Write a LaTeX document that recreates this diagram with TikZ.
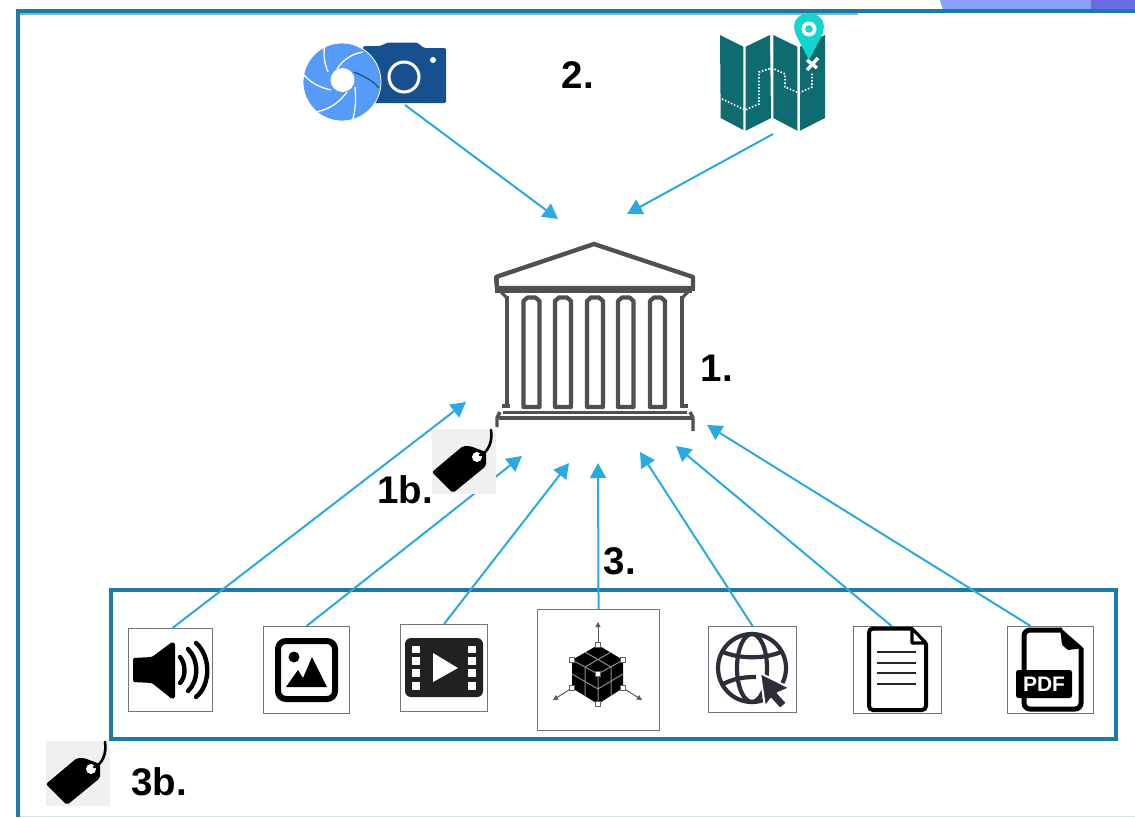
\documentclass[tikz,border=0pt]{standalone}
\usepackage{fontspec}
\setmainfont{Liberation Sans}
\usetikzlibrary{arrows.meta,calc}
\definecolor{frameblue}{HTML}{1A7BA6}
\definecolor{arrowblue}{HTML}{2BA9E1}
\definecolor{temple}{HTML}{505050}
\definecolor{iconborder}{HTML}{70747C}
\definecolor{camdark}{HTML}{17508F}
\definecolor{camlight}{HTML}{569BF7}
\definecolor{mapteal}{HTML}{0E6B6F}
\definecolor{pinteal}{HTML}{14D4D0}
\definecolor{globe}{HTML}{2E2E3A}
\definecolor{winlight}{HTML}{88A0F5}
\definecolor{windark}{HTML}{6A6BE0}
\definecolor{framepale}{HTML}{7FB3CE}
\tikzset{
  flow/.style={draw=arrowblue,line width=2pt,-{Triangle[length=15pt,width=16pt]}},
  iconbox/.style={draw=iconborder,line width=1.1pt,fill=white,inner sep=0pt,anchor=north west},
  lab/.style={font=\fontsize{38.5}{38.5}\selectfont\bfseries,inner sep=0pt,text=black},
  blade/.style={draw=white,line width=1.3pt},
  pillar/.style={draw=temple,line width=4.2pt,line join=round},
  tagbox/.style={fill=black!6,draw=none,inner sep=0pt,minimum width=64pt,minimum height=65pt,anchor=north west},
  pics/pricetag/.style={code={
    \fill[black,rounded corners=2pt] (0,43)--(21,64)--(54,37)--(54,23)--(38,17)--(31,17)--cycle;
    \fill[white] (45,28) circle (5);
    \draw[black,line width=2.6pt,line cap=round] (48,26) .. controls (56,24) and (61,12) .. (59,1);
  }}
}
\begin{document}
\begin{tikzpicture}[x=1pt,y=-1pt]
\useasboundingbox (0,0) rectangle (1135,817);
\fill[white] (0,0) rectangle (1135,817);
% window corner
\fill[winlight] (940,0) -- (1091,0) -- (1091,10) -- (943,10) -- cycle;
\fill[windark] (1091,0) rectangle (1135,10);
% outer frame
\fill[framepale] (17,12) rectangle (858,14.5);
\fill[frameblue] (15.5,9) rectangle (1135,13);
\fill[frameblue] (15.5,9) rectangle (20,817);
\fill[frameblue!20] (20,815.5) rectangle (1135,817);

% connector ends
\coordinate (camout) at (405,105);
\coordinate (mapout) at (773,134);
\coordinate (tcam) at (558,219);
\coordinate (tmap) at (627,214);
\coordinate (taudio) at (466,402);
\coordinate (timage) at (522,456);
\coordinate (tvideo) at (569,463);
\coordinate (tcube) at (598,463);
\coordinate (tweb) at (640,452);
\coordinate (tdoc) at (676,446);
\coordinate (tpdf) at (707,425);

% resources frame
\node[draw=frameblue,line width=4pt,inner sep=0pt,minimum width=1005.5pt,minimum height=149pt,anchor=north west] (resources) at (108.5,588) {};

% icon boxes
\node[iconbox,minimum width=84pt,minimum height=83pt] (audio) at (128,628) {};
\node[iconbox,minimum width=86pt,minimum height=87pt] (image) at (263,626) {};
\node[iconbox,minimum width=87pt,minimum height=87pt] (video) at (400,624) {};
\node[iconbox,minimum width=122pt,minimum height=121pt] (cube) at (537,609) {};
\node[iconbox,minimum width=88pt,minimum height=86pt] (web) at (708,626) {};
\node[iconbox,minimum width=88pt,minimum height=87pt] (doc) at (853,626) {};
\node[iconbox,minimum width=86pt,minimum height=87pt] (pdf) at (1007,626) {};

% connectors
\draw[flow] (camout) -- (tcam);
\draw[flow] (mapout) -- (tmap);
\draw[flow] ($(audio.north)+(2,0)$) -- (taudio);
\draw[flow] (image.north) -- (timage);
\draw[flow] (video.north) -- (tvideo);
\draw[flow] (cube.north) -- (tcube);
\draw[flow] (web.north) -- (tweb);
\draw[flow] ($(doc.north)+(-6,0)$) -- (tdoc);
\draw[flow] ($(pdf.north)+(-20,0)$) -- (tpdf);

% camera
\fill[camdark,rounded corners=1.5pt] (363,46) -- (380,46) -- (388,42.5) -- (417,42.5) -- (424,48) -- (446,48) -- (446,103) -- (363,103) -- cycle;
\draw[white,line width=3pt] (404,77) circle (15);
\fill[white] (433,60) circle (3);
\fill[camlight,draw=white,line width=.8pt] (342,82) circle (39);
\fill[white] (342.5,80) circle (12);
\draw[blade] (325,43) .. controls (323,55) and (324,62) .. (328,72);
\draw[blade] (363,52) .. controls (351,54) and (343,60) .. (337,69);
\draw[camdark,line width=1.2pt] (379,88) .. controls (374,82) and (368,78) .. (354,72);
\draw[blade] (352,122) .. controls (356,110) and (356,98) .. (355,87);
\draw[blade] (315,112) .. controls (328,110) and (338,104) .. (347,92);
\draw[blade] (303,74) .. controls (310,82) and (318,87) .. (331,90);

% map
\fill[mapteal] (720,35)--(743.3,46.7)--(743.3,130)--(720.7,118)--cycle;
\fill[mapteal] (745.7,46.7)--(770,35)--(771,118)--(745.7,130.7)--cycle;
\fill[mapteal] (773.3,35)--(797.3,46.7)--(797.3,130.7)--(773.3,118)--cycle;
\fill[mapteal] (800,46.7)--(825,35)--(825,118)--(800,130.7)--cycle;
\draw[white,line width=1.7pt,dash pattern=on 1.5pt off 1.8pt] (722,99)--(745,110)--(759,104)--(759,72)--(772,68)--(785,74)--(785,87)--(799,93)--(812,87)--(812,72);
\draw[white,line width=3.4pt] (807,70)--(818,58);
\draw[white,line width=3.4pt] (807,60)--(817,68);
\fill[pinteal] (809,60) -- (796.5,36) .. controls (790,22) and (798,13.5) .. (809,13.5) .. controls (820,13.5) and (828,22) .. (821.5,36) -- cycle;
\fill[white] (809,29) circle (7.5);
\fill[pinteal] (809,29) circle (3.8);

% temple
\draw[temple,line width=4.4pt,line join=round] (496,277) -- (594,244) -- (693,277) -- (693,288) -- (497,288) -- cycle;
\draw[temple,line width=3.4pt] (497,277) -- (497,291) -- (692,291);
\draw[temple,line width=3.4pt] (693,277) -- (693,291);
\draw[temple,line width=3pt] (501,292) -- (507,298);
\draw[temple,line width=3pt] (688,292) -- (682,298);
\draw[pillar] (507,296) -- (507,406);
\draw[pillar] (682,296) -- (682,406);
\foreach \xa/\xb in {523.5/539.5,555/571,587/603,618/633.5,650/665}
  \draw[pillar] (\xa,301) -- (\xa+4,297.5) -- (\xb-4,297.5) -- (\xb,301) -- (\xb,407) -- (\xa,407) -- cycle;
\draw[temple,line width=3.4pt] (502,406) -- (510,406);
\draw[temple,line width=3.4pt] (680,406) -- (688,406);
\draw[temple,line width=2.5pt] (503,412.5) -- (687,412.5);
\draw[temple,line width=3.6pt] (499,418) -- (692,418);
\draw[temple,line width=3.4pt] (500,412) -- (497,418) -- (497,427);
\draw[temple,line width=3.4pt] (690,412) -- (693,418) -- (693,431);

% tag 1b
\node[tagbox] (tag1) at (432,429) {};
\pic at (tag1.north west) {pricetag};
% tag 3b
\node[tagbox] (tag3) at (46,741) {};
\pic at (tag3.north west) {pricetag};

% audio icon
\fill[black,rounded corners=1.5pt] (133,658)--(152,657)--(172,642)--(175,643)--(175,698)--(172,699)--(152,683)--(133,682)--cycle;
\draw[black,line width=4.4pt,line cap=round] (180,657) .. controls (186,664) and (186,677) .. (180,683);
\draw[black,line width=4.4pt,line cap=round] (188,649) .. controls (199,660) and (199,681) .. (188,691);
\draw[black,line width=4.4pt,line cap=round] (196,643) .. controls (211,656) and (211,685) .. (196,697);

% image icon
\draw[black,line width=6pt,rounded corners=8pt] (278,641) rectangle (335,699);
\fill[black] (294,657) circle (5.5);
\fill[black] (286,687)--(298,670)--(303,678)--(312,657)--(327,687)--cycle;

% video icon
\fill[black!87,rounded corners=6pt] (405,638) rectangle (483,697);
\foreach \ya/\yb in {646/653,657/665,669/677,682/690}{
  \fill[white] (412,\ya) rectangle (420,\yb);
  \fill[white] (468,\ya) rectangle (476,\yb);
}
\fill[white] (433,653)--(458,668)--(433,682)--cycle;

% cube icon
\fill[black] (598,645)--(623,660)--(623,688)--(598,704)--(572,688)--(572,660)--cycle;
\draw[black!45,line width=1pt] (572,660)--(598,674)--(623,660) (598,674)--(598,704)
  (585,652)--(611,667) (611,652)--(585,667) (585,667)--(585,696) (611,667)--(611,696)
  (572,674)--(598,689)--(623,674);
\draw[black!65,line width=1pt,-{Triangle[length=5pt,width=5pt]}] (598,645)--(598,622);
\draw[black!65,line width=1pt,-{Triangle[length=5pt,width=5pt]}] (572,688)--(553,700);
\draw[black!65,line width=1pt,-{Triangle[length=5pt,width=5pt]}] (623,688)--(642,700);
\foreach \cx/\cy in {598/645,572/660,623/660,598/674,572/688,623/688,598/704}
  \draw[black!60,fill=white,line width=.8pt] (\cx-2.5,\cy-2.5) rectangle (\cx+2.5,\cy+2.5);

% web icon
\begin{scope}[draw=globe,line width=4.2pt]
\draw (752,668) circle (34);
\draw (752,668) ellipse [x radius=15, y radius=34];
\draw (723,652) .. controls (740,659) and (764,659) .. (781,652);
\draw (723,684) .. controls (735,678) and (745,677) .. (756,677);
\end{scope}
\fill[globe,draw=white,line width=2pt,line join=round] (760,673)--(790,688)--(778,693)--(787,703)--(780,709)--(771,699)--(765,707)--cycle;

% document icon
\draw[black,line width=4pt,rounded corners=4pt] (912,628.5) -- (869,628.5) -- (869,710) -- (926,710) -- (926,643);
\draw[black,line width=3.2pt,line join=round] (912,628.5) -- (926,643) -- (912,643) -- cycle;
\foreach \ly in {652,663,673,684}
  \draw[black!85,line width=2.8pt] (877,\ly) -- (916,\ly);

% pdf icon
\draw[black,line width=5pt,rounded corners=6pt] (1062,630) -- (1024,630) -- (1024,709) -- (1081,709) -- (1081,648);
\fill[black,rounded corners=1pt] (1060,627.5) -- (1083.5,648) -- (1068,650) -- (1062,645) -- cycle;
\fill[white] (1012,668) rectangle (1019,700);
\node[fill=black,rounded corners=2.5pt,inner sep=0pt,minimum width=56pt,minimum height=28pt,text=white,font=\fontsize{21}{21}\selectfont\bfseries] (pdfword) at (1044,684) {PDF};

% labels
\node[lab] (l2) at (578,75) {2.};
\node[lab] (l1) at (717,368) {1.};
\node[lab] (l1b) at (405,490) {1b.};
\node[lab] (l3) at (620,561) {3.};
\node[lab] (l3b) at (159,782) {3b.};
\end{tikzpicture}
\end{document}
